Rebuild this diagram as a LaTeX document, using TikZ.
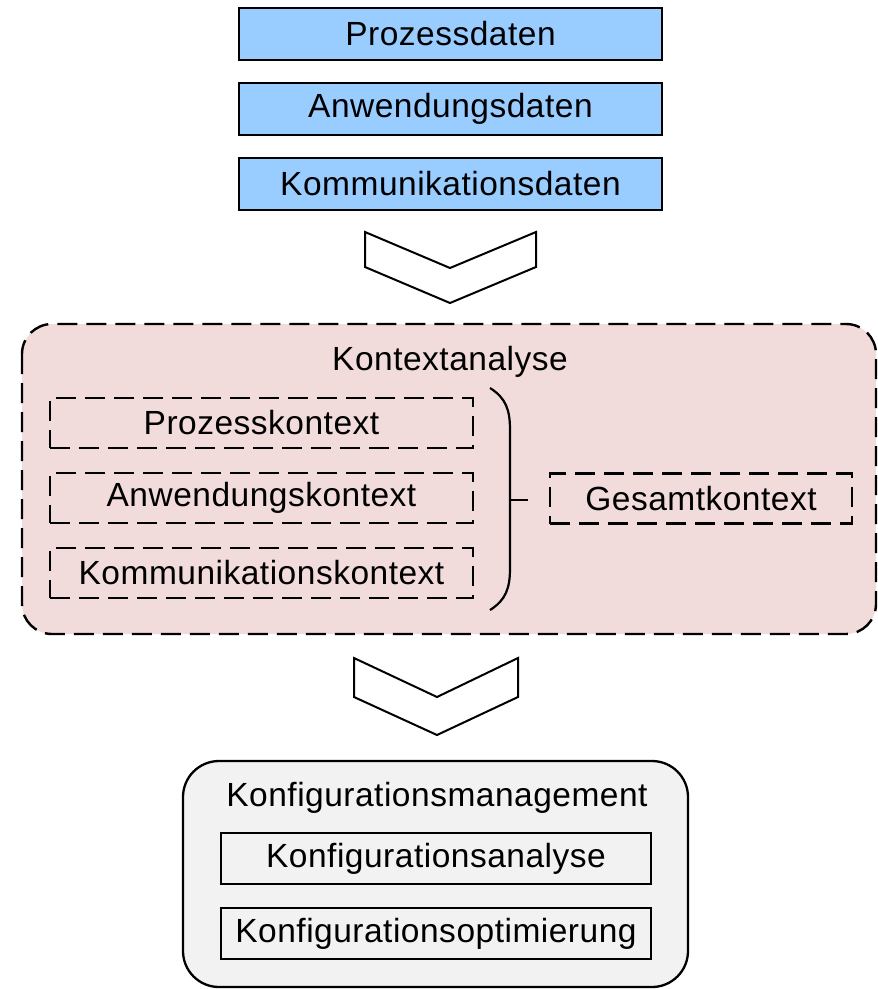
\documentclass[tikz,border=0pt]{standalone}
\usepackage{fontspec}
\setmainfont[LetterSpace=1.5]{Liberation Sans}
\begin{document}
\begin{tikzpicture}[x=1pt,y=-1pt,
  every node/.style={font=\fontsize{33.5}{40}\selectfont, inner sep=0pt},
  databox/.style={draw=black, line width=2.5pt, fill=datablue, minimum width=423pt, minimum height=52pt},
  ctxbox/.style={draw=black, line width=2.4pt, dash pattern=on 20pt off 9pt, minimum height=50pt},
  outerctx/.style={draw=black, line width=2.4pt, dash pattern=on 20pt off 9pt, fill=ctxpink, rounded corners=30pt},
  cfgouter/.style={draw=black, line width=2.3pt, fill=cfggray, rounded corners=36pt},
  cfgbox/.style={draw=black, line width=2.3pt, fill=cfggray, minimum width=430pt, minimum height=51pt},
  chevron/.style={draw=black, line width=2pt, fill=white, line join=miter},
  bracket/.style={draw=black, line width=2.2pt}
]
\definecolor{datablue}{HTML}{99CCFF}
\definecolor{ctxpink}{HTML}{F2DCDB}
\definecolor{cfggray}{HTML}{F2F2F2}
\useasboundingbox (0,0) rectangle (878,989);

% input data
\node[databox] (pd) at (450.5,34) {Prozessdaten};
\node[databox] (ad) at (450.5,109) {Anwendungsdaten};
\node[databox] (kd) at (450.5,184) {Kommunikationsdaten};

% first chevron
\draw[chevron] (365,232) -- (450,268) -- (536,232) -- (536,267) -- (450,303) -- (365,267) -- cycle;

% context analysis
\draw[outerctx] (22,324) rectangle (876,634);
\node (ka) at (450,362) {Kontextanalyse};
\node[ctxbox, minimum width=423pt] (pk) at (261.5,423) {Prozesskontext};
\node[ctxbox, minimum width=423pt] (ak) at (261.5,498) {Anwendungskontext};
\node[ctxbox, minimum width=423pt] (kk) at (261.5,573) {Kommunikationskontext};
\node[ctxbox, minimum width=302pt] (gk) at (701,498.5) {Gesamtkontext};

% bracket joining the partial contexts
\draw[bracket] (490,388) .. controls (506,398) and (510,410) .. (510,430) -- (510,568) .. controls (510,588) and (506,600) .. (490,610);
\coordinate (bm) at (510,500);
\coordinate (bt) at (528,500);
\draw[bracket] (bm) -- (bt);

% second chevron
\draw[chevron] (354,658) -- (437,697) -- (518,658) -- (518,697) -- (437,735) -- (354,697) -- cycle;

% configuration management
\draw[cfgouter] (183,761) rectangle (688,987);
\node (km) at (437,798) {Konfigurationsmanagement};
\node[cfgbox] (kan) at (436,858.5) {Konfigurationsanalyse};
\node[cfgbox] (kop) at (436,933.5) {Konfigurationsoptimierung};
\end{tikzpicture}
\end{document}
